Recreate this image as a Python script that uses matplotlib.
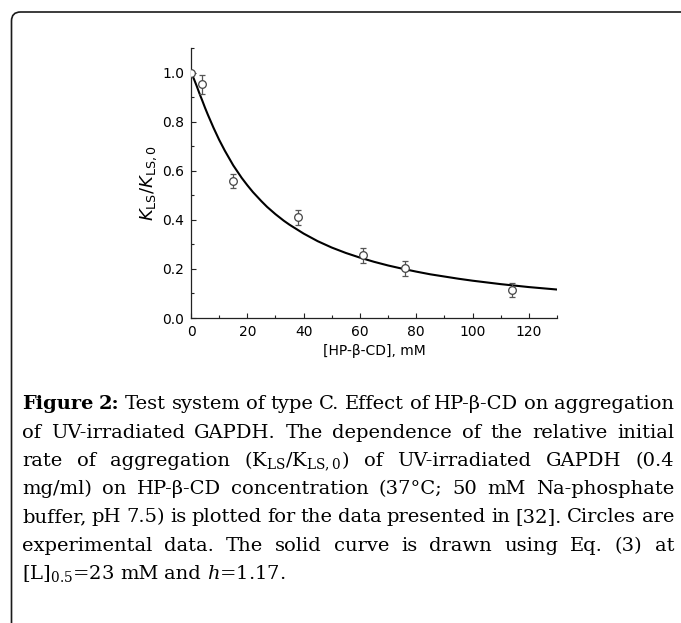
import matplotlib
matplotlib.use('Agg')
import matplotlib.pyplot as plt
from matplotlib.ticker import MultipleLocator
from matplotlib.patches import FancyBboxPatch
from matplotlib.transforms import IdentityTransform

# experimental points (first one sits on the axis, no error bar)
x_pts = [0, 4, 15, 38, 61, 76, 114]
y_pts = [1.0, 0.952, 0.558, 0.41, 0.255, 0.203, 0.114]
y_err = [0.0, 0.04, 0.03, 0.032, 0.03, 0.03, 0.029]

# solid curve
curve_x = [0, 1, 2, 3, 4, 5, 6, 8, 10, 12, 15, 18, 20, 22, 25, 27, 30, 33, 35, 40, 45, 50, 55, 60,
           65, 70, 75, 80, 85, 90, 95, 100, 110, 120, 130]
curve_y = [1.0, 0.975, 0.946, 0.915, 0.886, 0.856, 0.828, 0.775, 0.726, 0.682, 0.622, 0.571, 0.541,
           0.513, 0.476, 0.453, 0.423, 0.396, 0.380, 0.344, 0.313, 0.287, 0.265, 0.246,
           0.229, 0.214, 0.201, 0.189, 0.178, 0.169, 0.160, 0.152, 0.138, 0.126, 0.116]

x_label = '[HP-β-CD], mM'
y_label = r'$K_{\mathrm{LS}}/K_{\mathrm{LS,0}}$'

caption_lines = [
    'Figure 2: Test system of type C. Effect of HP-β-CD on aggregation',
    'of UV-irradiated GAPDH. The dependence of the relative initial',
    r'rate of aggregation (K$_{\mathrm{LS}}$/K$_{\mathrm{LS,0}}$) of UV-irradiated GAPDH (0.4',
    'mg/ml) on HP-β-CD concentration (37°C; 50 mM Na-phosphate',
    'buffer, pH 7.5) is plotted for the data presented in [32]. Circles are',
    'experimental data. The solid curve is drawn using Eq. (3) at',
    r'[L]$_{\mathrm{0.5}}$=23 mM and $h$=1.17.',
]

W, H = 681, 623
fig = plt.figure(figsize=(W / 100, H / 100), dpi=100)

ax = fig.add_axes([191 / W, 1 - 318 / H, 366 / W, 270 / H])
ax.plot(curve_x, curve_y, color='black', lw=1.5, zorder=2)
ax.errorbar(x_pts[1:], y_pts[1:], yerr=y_err[1:], fmt='none', ecolor='#555555',
            elinewidth=0.9, capsize=2.5, capthick=0.9, zorder=3)
ax.plot(x_pts, y_pts, 'o', ms=5.5, mfc='white', mec='#444444', mew=0.9, zorder=4)

ax.set_xlim(0, 130)
ax.set_ylim(0, 1.1001)
ax.xaxis.set_major_locator(MultipleLocator(20))
ax.xaxis.set_minor_locator(MultipleLocator(10))
ax.yaxis.set_major_locator(MultipleLocator(0.2))
ax.yaxis.set_minor_locator(MultipleLocator(0.1))
ax.yaxis.set_major_formatter(plt.FormatStrFormatter('%.1f'))
for s in ['top', 'right']:
    ax.spines[s].set_visible(False)
for s in ['left', 'bottom']:
    ax.spines[s].set_linewidth(0.9)
    ax.spines[s].set_color('#222222')
ax.tick_params(which='both', direction='in', width=0.8, colors='#222222', labelcolor='black')
ax.tick_params(which='major', length=3.5, labelsize=10, pad=5)
ax.tick_params(which='minor', length=2)
for lab in ax.get_xticklabels() + ax.get_yticklabels():
    lab.set_family('DejaVu Sans')
ax.set_xlabel(x_label, family='DejaVu Sans', fontsize=10, labelpad=4)
ax.set_ylabel(y_label, fontsize=13, labelpad=2, math_fontfamily='dejavusans')

# frame with rounded top-left corner, open to the right and bottom
frame = FancyBboxPatch((11.5, -60), 800, H - 12 + 60, boxstyle='round,pad=0,rounding_size=9',
                       transform=IdentityTransform(), fill=False, ec='#1a1a1a', lw=1.2)
fig.add_artist(frame)

# caption, justified word by word
FS = 14
left, right = 22, 674
baselines = [409, 438, 466, 494, 522, 551, 579]
renderer = fig.canvas.get_renderer()
space = FS * 100 / 72 * 0.3
for i, (line, yb) in enumerate(zip(caption_lines, baselines)):
    words = line.split(' ')
    objs = []
    for j, w in enumerate(words):
        bold = (i == 0 and j < 2)
        t = fig.text(0, 0, w, fontsize=FS, family='DejaVu Serif', math_fontfamily='dejavuserif',
                     weight='bold' if bold else 'normal', va='baseline', ha='left')
        objs.append(t)
    widths = [t.get_window_extent(renderer).width for t in objs]
    if i < len(caption_lines) - 1:
        gap = (right - left - sum(widths)) / (len(words) - 1)
    else:
        gap = space
    xx = left
    for t, w in zip(objs, widths):
        t.set_position((xx / W, 1 - yb / H))
        xx += w + gap

fig.savefig('out.png', dpi=100)
